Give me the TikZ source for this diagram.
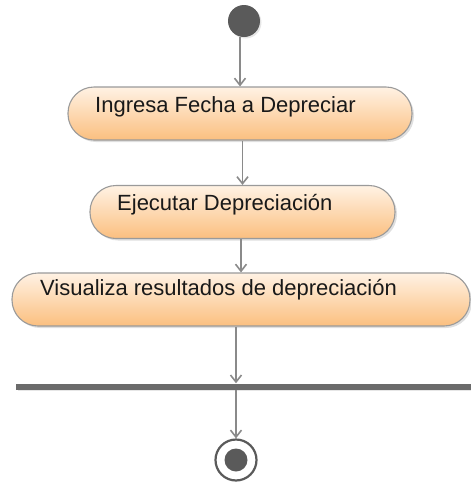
\documentclass[tikz,border=0pt]{standalone}
\usepackage{fontspec}
\setmainfont{Liberation Sans}
\usetikzlibrary{arrows.meta,shadows}
\definecolor{edgegray}{HTML}{8A8A8A}
\definecolor{nodegray}{HTML}{5A5A5A}
\definecolor{bordergray}{HTML}{9A9A9A}
\definecolor{toporange}{HTML}{FFF2E4}
\definecolor{botorange}{HTML}{FBBF7F}
\tikzset{
  action/.style={draw=bordergray, line width=1.1pt, rounded corners=26pt,
    top color=toporange, bottom color=botorange, minimum height=53pt,
    inner sep=0pt, drop shadow={opacity=0.25, shadow xshift=2pt, shadow yshift=-2pt}},
  lbl/.style={anchor=base west, inner sep=0pt, font=\fontsize{22}{25}\selectfont, text=black!90},
  flow/.style={draw=edgegray, line width=1.6pt, -{Straight Barb[length=7pt,width=11pt,line width=1.6pt]}},
  initst/.style={circle, fill=nodegray, minimum size=32pt, inner sep=0pt,
    drop shadow={opacity=0.2, shadow xshift=1.5pt, shadow yshift=-1.5pt}},
  barst/.style={fill=nodegray!90, minimum height=6pt, inner sep=0pt,
    drop shadow={opacity=0.2, shadow xshift=1.5pt, shadow yshift=-1.5pt}},
  finalst/.style={circle, draw=nodegray, line width=2.2pt, fill=white, minimum size=41pt, inner sep=0pt},
  finalin/.style={circle, fill=nodegray, minimum size=23pt, inner sep=0pt}
}
\begin{document}
\begin{tikzpicture}[x=1pt,y=-1pt]
\useasboundingbox (0,0) rectangle (471,483);
\node[initst] (init) at (244,21) {};
\node[action, minimum width=344pt] (a1) at (240,113.5) {};
\node[lbl] (t1) at (95,112) {Ingresa Fecha a Depreciar};
\node[action, minimum width=305pt] (a2) at (242.5,212) {};
\node[lbl] (t2) at (117,210) {Ejecutar Depreciación};
\node[action, minimum width=458pt] (a3) at (241,299.5) {};
\node[lbl] (t3) at (40,295) {Visualiza resultados de depreciación};
\node[barst, minimum width=470pt] (bar) at (251,386.5) {};
\node[finalst] (fin) at (236,460) {};
\node[finalin] (finin) at (236,460) {};
\draw[flow] (init.south -| a1.north) -- (a1.north);
\draw[flow] (a1.south -| a2.north) -- (a2.north);
\draw[flow] (a2.south -| a3.north) -- (a3.north);
\draw[flow] (a3.south -| fin.north) -- (bar.north -| fin.north);
\draw[flow] (bar.south -| fin.north) -- (fin.north);
\end{tikzpicture}
\end{document}
